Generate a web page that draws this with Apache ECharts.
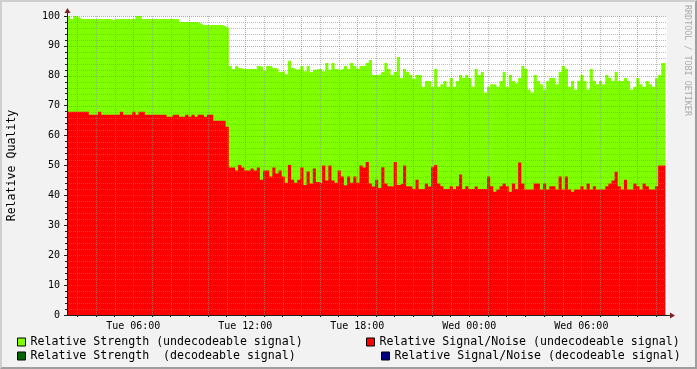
<!DOCTYPE html>
<html><head><meta charset="utf-8">
<script src="https://cdn.jsdelivr.net/npm/echarts@6/dist/echarts.min.js"></script>
<style>
html,body{margin:0;padding:0;background:#F2F2F2;}
#c{position:absolute;left:0;top:0;width:697px;height:369px;}
#f{position:absolute;left:0;top:0;width:697px;height:369px;box-sizing:border-box;border:2px solid;border-color:#CFCFCF #9E9E9E #9E9E9E #CFCFCF;pointer-events:none;}
</style></head>
<body><div id="c"></div><div id="f"></div>
<script>
// ---- time axis (hours since Tue 00:00) ----
const START_HOUR = 2.45;      // first sample
const STEP_HOURS = 1 / 6;     // 10 minute samples
const END_HOUR = 34.5;        // last sample end
const AXIS_MIN = 2.45;
const AXIS_MAX = 34.59;
const dayNames = ['Tue', 'Wed'];
const xLabelHours = [6, 12, 18, 24, 30];
const xGridHours = [3, 4, 5, 6, 7, 8, 9, 10, 11, 12, 13, 14, 15, 16, 17, 18, 19, 20,
  21, 22, 23, 24, 25, 26, 27, 28, 29, 30, 31, 32, 33, 34];
const yGridValues = [2, 4, 6, 8, 10, 12, 14, 16, 18, 20, 22, 24, 26, 28, 30, 32, 34, 36, 38, 40,
  42, 44, 46, 48, 50, 52, 54, 56, 58, 60, 62, 64, 66, 68, 70, 72, 74, 76, 78, 80,
  82, 84, 86, 88, 90, 92, 94, 96, 98, 100];

// ---- series values ----
const strengthUndecodeable = [
  100,99,100,99.5,99,99,99,99,99,99,
  99,99,99,99,98.7,99,99,99,99,99,
  99,99,100,100,99,99,99,99,99,99,
  99,99,99,99,99,99,98,98,98,98,
  98,98,97.6,97,97,97,97,97,97,97,
  96.6,96,
  83.3,82.3,83.3,82.6,82.3,82.3,82.3,82.3,82.3,83.3,
  83,81.6,83.3,83.3,82.6,82.3,81.3,81.6,80.5,85,
  82.6,82,82.3,83.3,81.5,83.3,81.3,82,82.3,82.3,
  81.5,84.3,82,84.3,82.3,82,82.3,83.3,82.3,84.3,
  83.3,82.3,83.3,83.3,84.3,85.3,80.3,80.3,80.5,81.3,
  84.3,82.3,80.3,81.3,86.3,79.3,82.3,81.3,80.3,79,
  80.3,80.3,76.3,78.3,78.3,76.3,82.3,76.3,77.2,78.3,
  76.3,79.3,76.3,78.3,80.3,79.3,80.3,79.3,76.3,82.3,
  80.3,81.3,74.4,76.3,77.2,77.2,76.3,78.3,81.3,76.3,
  80.3,78.3,77.5,79.3,83.3,82.3,75.4,74.4,80.3,78.3,
  77.2,75.4,78.3,79.3,79.3,77.2,81.3,83.3,82.3,76.3,
  78.3,75.4,78.3,80.3,78.3,75.4,82.3,78.3,77.2,78.3,
  77.2,80.3,79.3,78.3,81.3,78.3,78.3,79.3,78.3,75.4,
  76.3,79.3,77.2,76.3,78.3,77.2,76.3,79.3,80.3,84.3
];
const snrUndecodeable = [
  68,68,68,68,68,68,68,67,67,67,
  68,67,67,67,67,67,67,68,67,67,
  67,68,67,68,68,67,67,67,67,67,
  67,67,66.3,66.3,67,67,66.3,66.3,67,66.3,
  67,66.3,67,67,66.3,67,67,65,65,65,
  65,63,
  49.3,49.3,48.3,50.2,49.3,48.3,48.3,49,48.3,49.3,
  45.2,48.3,48.3,46.3,49.3,47.3,48.3,46.3,44.2,50.2,
  45.2,44.2,45.2,49.3,43.5,48,44,49,44.5,44,
  50,45,50,45,44.2,48.3,46.3,43.4,46.3,44.2,
  46.3,44.2,50,49.3,51.2,44,43,45.2,42.5,49.4,
  44,43.1,43,51.2,43.5,44,50,43.1,43,42.1,
  45.2,42.1,42.1,44,43,49.4,50.2,44,43.1,42.1,
  42.1,43.1,42.1,43.1,47,42.1,43.1,42.1,42.1,43,
  42.1,42.1,42.1,46.3,43.1,41.2,42,43.1,44,43.1,
  41.2,44,42.1,51,44,42,42,42,44,44,
  42,44,42,43.1,43.1,42,46.3,42,46.3,42,
  41.2,42,42,43.1,42,44,42,43.1,42,42,
  42,43.1,44,45,47.9,43.1,42,45.2,42,42,
  44,43.1,42,44,43.1,42,42,43.1,50,50
];
const strengthDecodeable = [];
const snrDecodeable = [];

const NAME_SU = 'Relative Strength (undecodeable signal)';
const NAME_SD = 'Relative Strength  (decodeable signal)';
const NAME_NU = 'Relative Signal/Noise (undecodeable signal)';
const NAME_ND = 'Relative Signal/Noise (decodeable signal)';

function toPairs(vals) {
  const p = vals.map((v, i) => [START_HOUR + i * STEP_HOURS, v]);
  if (vals.length) p.push([END_HOUR, vals[vals.length - 1]]);
  return p;
}
const FONT = 'DejaVu Sans Mono';
const MINOR_C = 'rgba(143,143,143,0.6)';
const MAJOR_C = 'rgba(222,79,79,0.6)';
const DASH = [1, 1];
const AXIS_C = '#1F1F1F';
const ARROW_C = '#802020';

function areaSeries(name, vals, color) {
  return {
    name, type: 'line', step: 'end', symbol: 'none', showSymbol: false, z: 2,
    data: toPairs(vals),
    lineStyle: { width: 0, color },
    itemStyle: { color },
    areaStyle: { color, opacity: 1 },
    animation: false, silent: true
  };
}

// grid lines drawn over the data (as rrdtool does)
const vGridSeries = {
  type: 'custom', z: 5, silent: true, animation: false, clip: false,
  data: xGridHours.map(h => [h, 0]),
  renderItem: (params, api) => {
    const h = api.value(0);
    const p0 = api.coord([h, 0]), p1 = api.coord([h, 100]);
    const x = Math.round(p0[0]) + 0.5;
    return { type: 'line', shape: { x1: x, y1: p1[1], x2: x, y2: p0[1] },
      style: { stroke: (h % 3 === 0) ? MAJOR_C : MINOR_C, lineWidth: 1, lineDash: DASH } };
  }
};
const hGridSeries = {
  type: 'custom', z: 5, silent: true, animation: false, clip: false,
  data: yGridValues.map(v => [AXIS_MIN, v]),
  renderItem: (params, api) => {
    const v = api.value(1);
    const p0 = api.coord([AXIS_MIN, v]), p1 = api.coord([AXIS_MAX, v]);
    const y = Math.round(p0[1]) + 0.5;
    return { type: 'line', shape: { x1: p0[0], y1: y, x2: p1[0], y2: y },
      style: { stroke: (v % 10 === 0) ? MAJOR_C : MINOR_C, lineWidth: 1, lineDash: DASH } };
  }
};

const legendBase = {
  icon: 'rect', itemWidth: 8, itemHeight: 8, padding: 0, selectedMode: false,
  itemStyle: { borderColor: '#000', borderWidth: 1 },
  textStyle: { fontFamily: FONT, fontSize: 11.6, color: '#000' }
};

const option = {
  backgroundColor: '#F2F2F2',
  animation: false,
  grid: { left: 67, right: 30, top: 16, bottom: 54, show: true, backgroundColor: '#FFFFFF', borderWidth: 0,
    containLabel: false, outerBoundsMode: 'none' },
  legend: [
    Object.assign({ data: [NAME_SU], left: 17, top: 336 }, legendBase),
    Object.assign({ data: [NAME_SD], left: 17, top: 350 }, legendBase),
    Object.assign({ data: [NAME_NU], left: 366, top: 336 }, legendBase),
    Object.assign({ data: [NAME_ND], left: 381, top: 350 }, legendBase)
  ],
  xAxis: {
    type: 'value', min: AXIS_MIN, max: AXIS_MAX, z: 10,
    axisLine: { show: true, onZero: false, lineStyle: { color: AXIS_C, width: 1 } },
    axisTick: { show: true, length: 2, customValues: xGridHours, lineStyle: { color: AXIS_C } },
    axisLabel: {
      customValues: xLabelHours, margin: 6, color: '#000', fontFamily: FONT, fontSize: 10,
      formatter: v => dayNames[Math.floor(v / 24)] + ' ' + String(Math.round(v % 24)).padStart(2, '0') + ':00'
    },
    splitLine: { show: false }
  },
  yAxis: {
    type: 'value', min: 0, max: 100, interval: 10, z: 10,
    name: 'Relative Quality', nameLocation: 'middle', nameGap: 49,
    nameTextStyle: { fontFamily: FONT, fontSize: 11.6, color: '#000' },
    axisLine: { show: true, lineStyle: { color: AXIS_C, width: 1 } },
    axisTick: { show: true, length: 3, lineStyle: { color: AXIS_C } },
    minorTick: { show: true, splitNumber: 5, length: 2, lineStyle: { color: AXIS_C } },
    axisLabel: { margin: 7, color: '#000', fontFamily: FONT, fontSize: 10 },
    splitLine: { show: false },
    minorSplitLine: { show: false }
  },
  graphic: [
    { type: 'text', x: 687, y: 5, rotation: -Math.PI / 2,
      style: { text: 'RRDTOOL / TOBI OETIKER', font: '8.4px "DejaVu Sans Mono"', fill: '#ABABAB', align: 'left', verticalAlign: 'middle' } },
    { type: 'line', shape: { x1: 67.5, y1: 16, x2: 67.5, y2: 12 }, style: { stroke: AXIS_C, lineWidth: 1 }, z: 10 },
    { type: 'polygon', shape: { points: [[64.5, 13], [70.5, 13], [67.5, 8]] }, style: { fill: ARROW_C }, z: 10 },
    { type: 'line', shape: { x1: 667, y1: 315.5, x2: 671, y2: 315.5 }, style: { stroke: AXIS_C, lineWidth: 1 }, z: 10 },
    { type: 'polygon', shape: { points: [[670, 312.5], [670, 318.5], [675, 315.5]] }, style: { fill: ARROW_C }, z: 10 }
  ],
  series: [
    areaSeries(NAME_SU, strengthUndecodeable, '#7FFF00'),
    areaSeries(NAME_SD, strengthDecodeable, '#006600'),
    areaSeries(NAME_NU, snrUndecodeable, '#FF0000'),
    areaSeries(NAME_ND, snrDecodeable, '#000080'),
    vGridSeries,
    hGridSeries
  ]
};
const chart = echarts.init(document.getElementById('c'), null, { renderer: 'canvas' });
chart.setOption(option);
</script>
</body></html>
